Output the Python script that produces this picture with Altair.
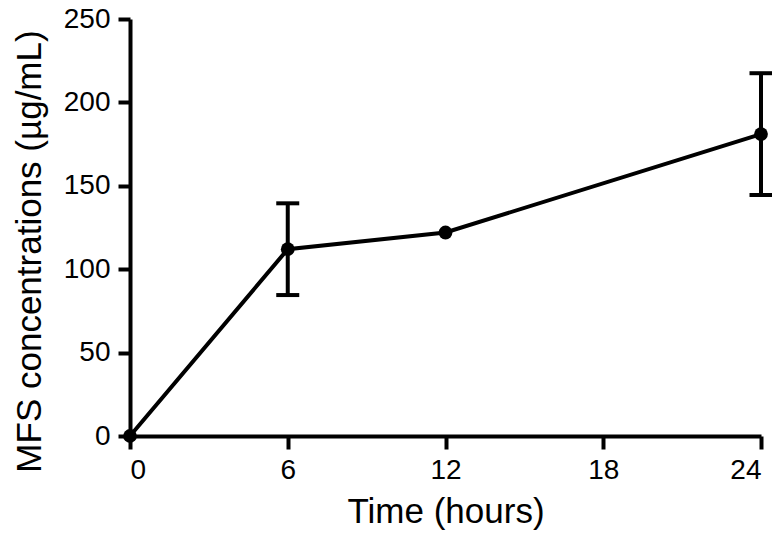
import altair as alt
import pandas as pd

time_h = [0, 6, 12, 24]
mean_conc = [0, 112, 122, 181]
sd_conc = [0, 27.5, 0, 36.5]

df = pd.DataFrame({"time": time_h, "mean": mean_conc, "sd": sd_conc})
df["lo"] = df["mean"] - df["sd"]
df["hi"] = df["mean"] + df["sd"]
err = df[df["sd"] > 0]

xs = alt.Scale(domain=[0, 24], nice=False)
ys = alt.Scale(domain=[0, 250], nice=False)

x_enc = alt.X("time:Q", scale=xs, title="Time (hours)",
              axis=alt.Axis(values=[0, 6, 12, 18, 24], titlePadding=10,
                            tickSize=13, labelPadding=7))
y_enc = alt.Y("mean:Q", scale=ys, title="MFS concentrations (µg/mL)",
              axis=alt.Axis(values=[0, 50, 100, 150, 200, 250], titlePadding=16,
                            tickSize=12, labelPadding=8, titleFontSize=35, titleY=232))

base = alt.Chart(df)

line = base.mark_line(color="black", strokeWidth=4, clip=False).encode(x=x_enc, y=y_enc)
pts = base.mark_circle(color="black", size=190, opacity=1, clip=False).encode(x="time:Q", y="mean:Q")

ebase = alt.Chart(err)
bars = ebase.mark_rule(color="black", strokeWidth=4).encode(
    x="time:Q", y="lo:Q", y2="hi:Q")
cap_lo = ebase.mark_tick(color="black", orient="horizontal", size=23, thickness=4, opacity=1).encode(
    x="time:Q", y="lo:Q")
cap_hi = ebase.mark_tick(color="black", orient="horizontal", size=23, thickness=4, opacity=1).encode(
    x="time:Q", y="hi:Q")

chart = alt.layer(line, bars, cap_lo, cap_hi, pts).properties(
    width=631, height=417,
    autosize=alt.AutoSizeParams(type="none"),
    padding={"left": 122, "top": 11, "right": 11, "bottom": 96},
).configure_view(stroke=None).configure_axis(
    grid=False,
    domainColor="black", domainWidth=4,
    tickColor="black", tickWidth=4,
    labelFont="Liberation Sans", labelFontSize=28, labelColor="black",
    titleFont="Liberation Sans", titleFontSize=35, titleColor="black", titleFontWeight="normal",
)

chart.save("out.html", embed_options={"renderer": "svg", "actions": False})
